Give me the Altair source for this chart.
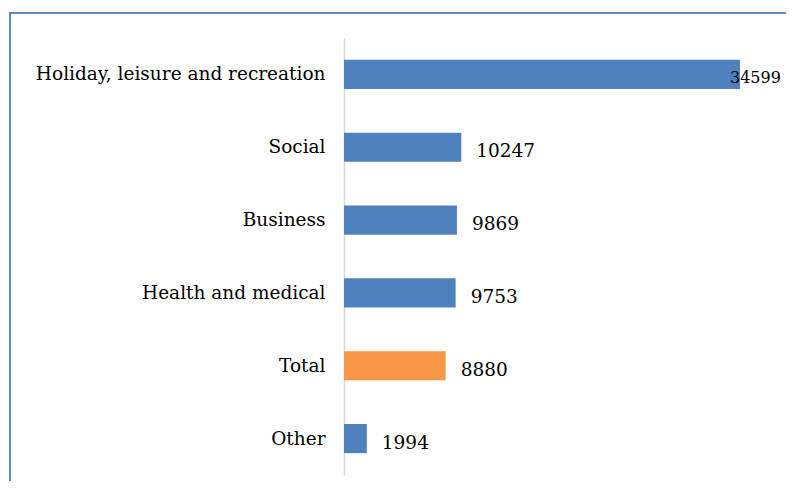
import altair as alt
import pandas as pd

categories = ["Holiday, leisure and recreation", "Social", "Business",
              "Health and medical", "Total", "Other"]
values = [34599, 10247, 9869, 9753, 8880, 1994]
kinds = ["cat", "cat", "cat", "cat", "total", "cat"]

df = pd.DataFrame({"category": categories, "value": values, "kind": kinds})

FONT = "DejaVu Serif"

y_enc = alt.Y("category:N", sort=categories, title=None,
              scale=alt.Scale(paddingInner=0.6, paddingOuter=0.3),
              axis=alt.Axis(labelFont=FONT, labelFontSize=18.5, labelColor="#000000",
                            labelPadding=19, ticks=False, domainColor="#d9d9d9",
                            domainWidth=1.5, labelLimit=400))
x_enc = alt.X("value:Q", title=None,
              scale=alt.Scale(domain=[0, 34599], nice=False, zero=True),
              axis=None)

base = alt.Chart(df)

bars = base.mark_bar().encode(
    y=y_enc, x=x_enc,
    color=alt.Color("kind:N", scale=alt.Scale(domain=["cat", "total"],
                                               range=["#4f81bd", "#f79646"]),
                    legend=None),
)

labels_out = base.transform_filter(alt.datum.value < 30000).mark_text(
    align="left", baseline="middle", dx=15, dy=4, font=FONT, fontSize=18.5, color="#000000"
).encode(y=alt.Y("category:N", sort=categories), x="value:Q", text="value:Q")

labels_in = base.transform_filter(alt.datum.value >= 30000).mark_text(
    align="left", baseline="middle", dx=-10, dy=4, font=FONT, fontSize=16, color="#000000"
).encode(y=alt.Y("category:N", sort=categories), x="value:Q", text="value:Q")

border_left = alt.Chart(df.head(1)).mark_rule(color="#5b8ac6", strokeWidth=2).encode(
    x=alt.value(-334), y=alt.value(-25), y2=alt.value(470))
border_top = alt.Chart(df.head(1)).mark_rule(color="#5b8ac6", strokeWidth=2).encode(
    x=alt.value(-335), x2=alt.value(470), y=alt.value(-25))

chart = alt.layer(border_left, border_top, bars, labels_out, labels_in).properties(
    width=396, height=437,
    padding={"left": 336, "top": 30, "right": 46, "bottom": 6},
    autosize=alt.AutoSizeParams(type="none"),
    background="white",
).configure_view(strokeWidth=0, stroke="transparent")

chart.save("out.html", embed_options={"renderer": "svg", "actions": False})
